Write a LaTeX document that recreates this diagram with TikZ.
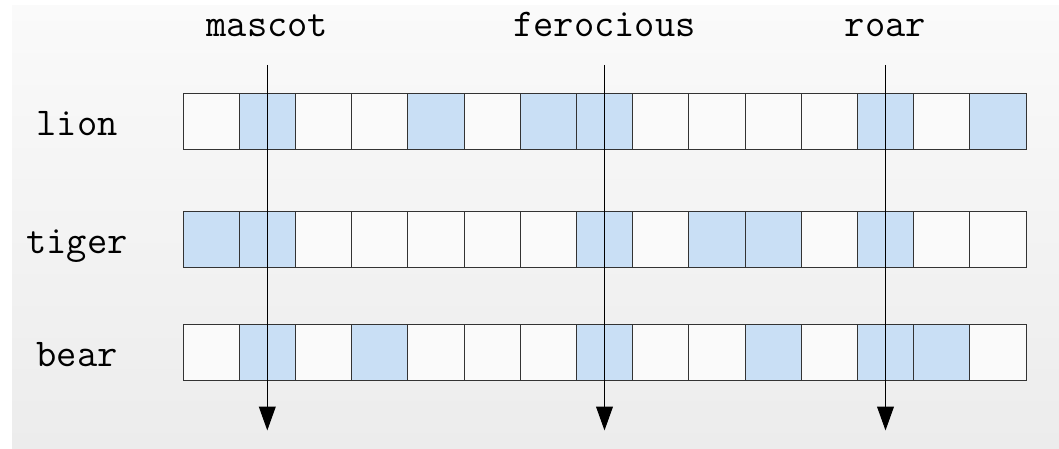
\documentclass[tikz,border=0pt]{standalone}
\usetikzlibrary{arrows.meta,positioning}
\definecolor{cellc0}{RGB}{250,250,250}
\definecolor{cellc1}{RGB}{201,223,245}
\definecolor{bgtop}{RGB}{250,250,250}
\definecolor{bgbottom}{RGB}{236,236,236}

\begin{document}
\begin{tikzpicture}[
		x=0.025cm, y=-0.025cm,
		cell/.style={draw=black!80, line width=0.6pt, minimum width=1.405cm, minimum height=1.41cm, inner sep=0pt, outer sep=0pt},
		word/.style={font=\ttfamily\fontsize{28}{32}\selectfont, inner sep=0pt, anchor=base},
		pointer/.style={-{Triangle[length=17pt, width=12pt]}, line width=0.7pt}
	]
		\fill[white] (0,0) rectangle (1059,448);
		\shade[top color=bgtop, bottom color=bgbottom] (12,5) rectangle (1059,448);
		\foreach \animal/\ytop/\bits in {lion/93/{0,1,0,0,1,0,1,1,0,0,0,0,1,0,1}, tiger/211/{1,1,0,0,0,0,0,1,0,1,1,0,1,0,0}, bear/324/{0,1,0,1,0,0,0,1,0,0,1,0,1,1,0}} {
			\node[word] (\animal) at (77,\ytop+42) {\animal};
			\foreach \b [count=\i from 0] in \bits
				\node[cell, fill=cellc\b] (\animal-\i) at (211.1+56.2*\i,\ytop+28.2) {};
		}
		\foreach \term/\col in {mascot/1, ferocious/7, roar/12} {
			\node[word] (\term) at ([yshift=1.4cm]lion-\col.north) {\term};
			\coordinate (\term-top) at ([yshift=0.7cm]lion-\col.north);
			\coordinate (\term-end) at ([yshift=-1.25cm]bear-\col.south);
			\draw[pointer] (\term-top) -- (\term-end);
		}
	\end{tikzpicture}
\end{document}
